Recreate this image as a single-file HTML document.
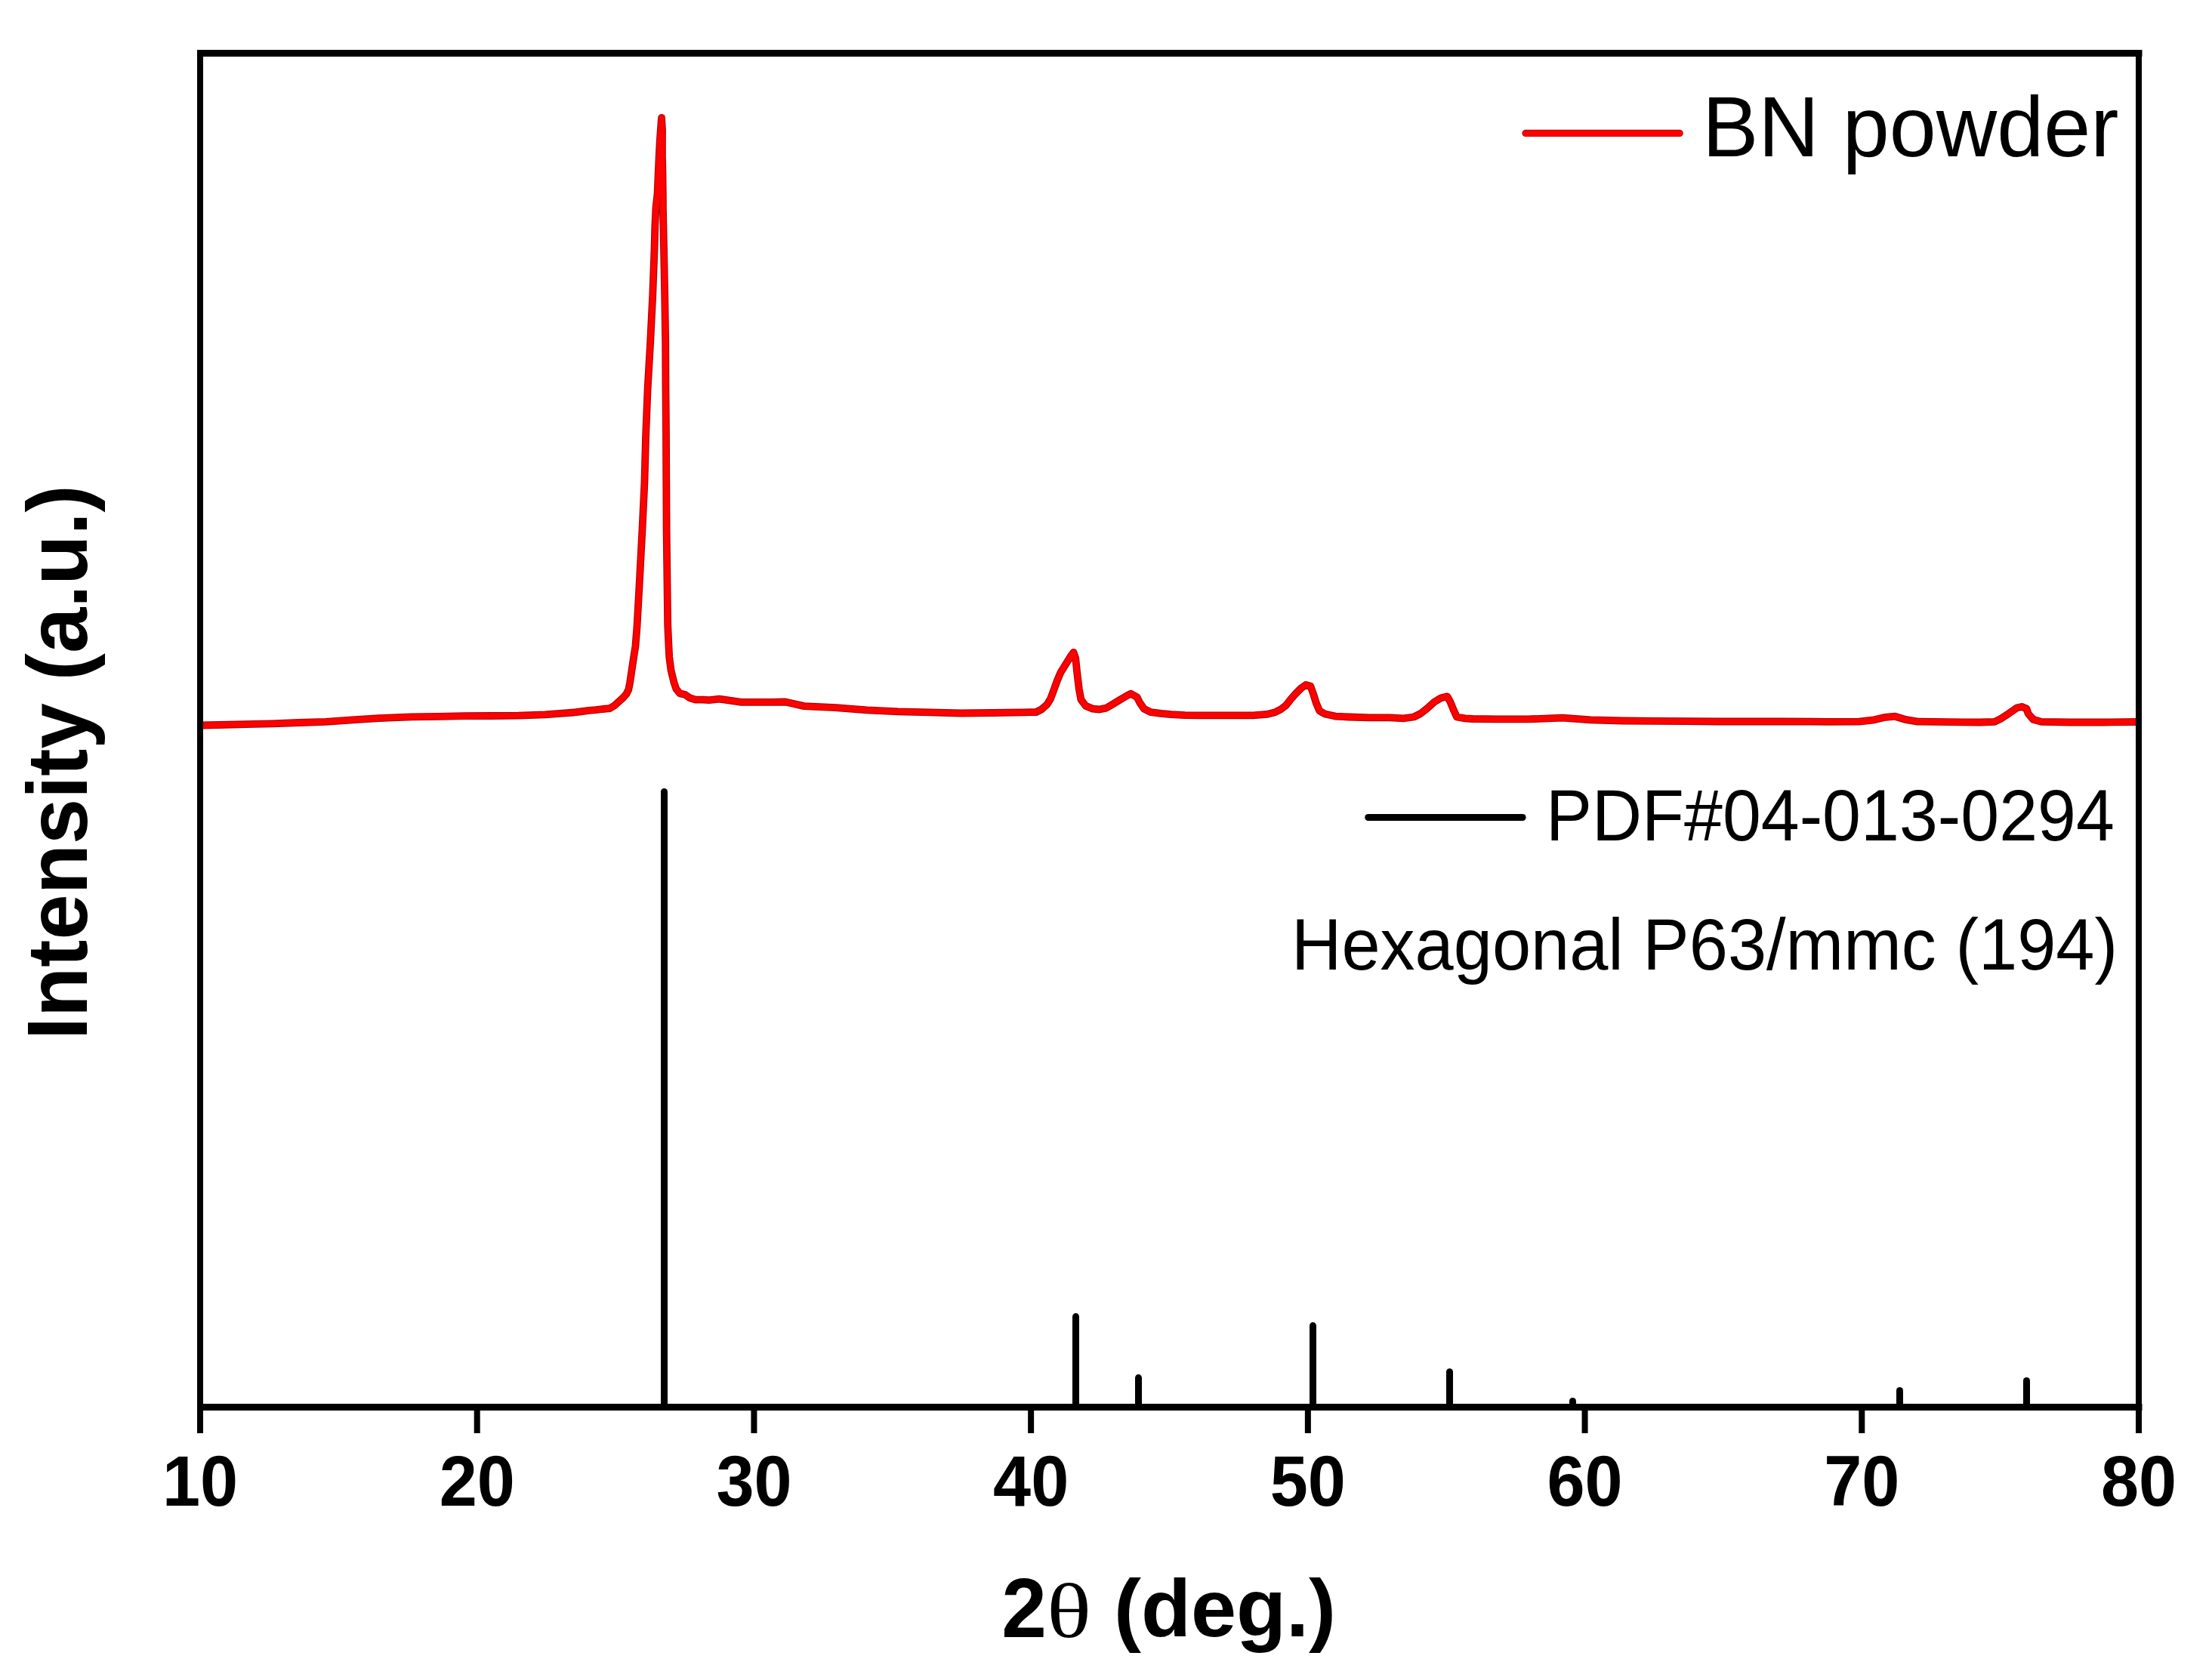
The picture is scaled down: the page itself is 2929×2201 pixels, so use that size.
<!DOCTYPE html><html><head><meta charset="utf-8"><style>html,body{margin:0;padding:0;background:#fff;overflow:hidden}svg{display:block}</style></head><body>
<svg width="2929" height="2201" viewBox="0 0 2929 2201">
<rect x="0" y="0" width="2929" height="2201" fill="#fff"/>
<path id="c" d="M265 960.5 L290.3 960 L325.5 959.1 L360.8 958.4 L396 957 L431.3 955.8 L466.6 953.3 L501.8 951.1 L545.3 949.4 L580.5 948.8 L615.8 948.2 L651 948 L686.3 947.6 L721.6 946.4 L745.1 944.6 L760 943.5 L780 940.8 L789 940.2 L798 939 L807.1 938.2 L813.1 934.8 L819.1 929.4 L825.1 924 L829.3 919.2 L832.3 913.2 L834.1 904.1 L835.9 892.1 L837.7 880.1 L839.5 868 L841.4 856 L843.5 830 L847.1 765.2 L850.4 702.6 L853.4 640 L855.1 577.7 L857.6 515 L861.2 452.6 L864.3 390 L866.6 328 L867.3 300 L868.5 275 L870.6 256 L871.8 227 L872.7 207 L873.7 188 L874.8 172 L876 156 L877 172 L876.9 188 L876.9 207 L877.4 227 L877.8 256 L877.9 275 L878.4 300 L879 328 L880.2 390 L881.2 452.6 L881.5 515 L882 577.7 L882.3 640 L882.6 702.6 L883.4 765.2 L884.2 827.7 L885.3 852 L886.2 870.1 L888.6 888.1 L892.3 903.2 L895.3 912.2 L900.1 918.2 L907.3 920 L913.3 924.2 L921.1 926.6 L930.2 926.6 L939.2 927.2 L952.5 925.7 L981.6 929.9 L1023.2 929.9 L1039.8 929.5 L1064.8 935.1 L1106.3 937.2 L1148 940.3 L1189.5 942.4 L1231.1 943.4 L1272.7 944.5 L1314.3 944 L1355.9 943.4 L1372 943 L1379 939.5 L1386.3 933.1 L1390.8 925.9 L1395.3 914.1 L1399.8 901.5 L1404.4 890.6 L1408.9 883.4 L1413.4 876.2 L1417.9 868.9 L1421.5 863.8 L1424.2 871.6 L1426.1 889.7 L1428.8 912.3 L1431.5 926.8 L1437.8 934.9 L1446.9 938.6 L1455.9 939.5 L1464.9 937.6 L1474 932.2 L1483 926.8 L1492.1 921.4 L1497.5 918.7 L1505.6 923.2 L1509.2 930.4 L1514.7 938.6 L1523.7 943.1 L1537.3 944.9 L1550.8 946.2 L1568.9 947.1 L1587.1 947.3 L1614.2 947.3 L1641.4 947.3 L1659.5 947.3 L1677.5 945.9 L1688.4 943.2 L1695.6 939.6 L1702.9 934.1 L1709.2 926 L1715.5 918.8 L1722.7 911.5 L1729.1 907 L1735.4 908.8 L1739 918.8 L1742.6 930.5 L1747.2 941.4 L1754.4 945.5 L1759 946.5 L1768.1 948.6 L1786.2 949.5 L1813.3 950.4 L1840.4 950.4 L1858.5 951.3 L1872.1 949.5 L1881.1 945 L1890.1 937.8 L1899.2 929.6 L1908.2 924.2 L1916.4 922.4 L1920 928.7 L1924.5 939.6 L1929 949.5 L1939.9 951.3 L1950 952 L1981.6 952.4 L2023.2 952.4 L2068.9 950.7 L2106.4 953.4 L2148 954.5 L2189.5 954.9 L2231.1 955.1 L2272.7 955.5 L2314.3 955.5 L2355.9 955.5 L2400 955.6 L2419.8 955.9 L2461.6 955.7 L2479.5 953.7 L2494.4 950.2 L2509.3 948.7 L2524.2 953.2 L2539.1 955.7 L2600 956.3 L2621.7 956.5 L2641.2 955.9 L2648.8 952.1 L2659.7 945.1 L2670.5 937.5 L2677 935.9 L2683.5 938.6 L2685.7 945.1 L2692.2 952.7 L2703.1 955.9 L2741 956.5 L2784.4 956.5 L2832 956" fill="none" stroke="#b40000" stroke-width="9.8" stroke-linejoin="round" stroke-linecap="butt"/>
<path d="M265 960.5 L290.3 960 L325.5 959.1 L360.8 958.4 L396 957 L431.3 955.8 L466.6 953.3 L501.8 951.1 L545.3 949.4 L580.5 948.8 L615.8 948.2 L651 948 L686.3 947.6 L721.6 946.4 L745.1 944.6 L760 943.5 L780 940.8 L789 940.2 L798 939 L807.1 938.2 L813.1 934.8 L819.1 929.4 L825.1 924 L829.3 919.2 L832.3 913.2 L834.1 904.1 L835.9 892.1 L837.7 880.1 L839.5 868 L841.4 856 L843.5 830 L847.1 765.2 L850.4 702.6 L853.4 640 L855.1 577.7 L857.6 515 L861.2 452.6 L864.3 390 L866.6 328 L867.3 300 L868.5 275 L870.6 256 L871.8 227 L872.7 207 L873.7 188 L874.8 172 L876 156 L877 172 L876.9 188 L876.9 207 L877.4 227 L877.8 256 L877.9 275 L878.4 300 L879 328 L880.2 390 L881.2 452.6 L881.5 515 L882 577.7 L882.3 640 L882.6 702.6 L883.4 765.2 L884.2 827.7 L885.3 852 L886.2 870.1 L888.6 888.1 L892.3 903.2 L895.3 912.2 L900.1 918.2 L907.3 920 L913.3 924.2 L921.1 926.6 L930.2 926.6 L939.2 927.2 L952.5 925.7 L981.6 929.9 L1023.2 929.9 L1039.8 929.5 L1064.8 935.1 L1106.3 937.2 L1148 940.3 L1189.5 942.4 L1231.1 943.4 L1272.7 944.5 L1314.3 944 L1355.9 943.4 L1372 943 L1379 939.5 L1386.3 933.1 L1390.8 925.9 L1395.3 914.1 L1399.8 901.5 L1404.4 890.6 L1408.9 883.4 L1413.4 876.2 L1417.9 868.9 L1421.5 863.8 L1424.2 871.6 L1426.1 889.7 L1428.8 912.3 L1431.5 926.8 L1437.8 934.9 L1446.9 938.6 L1455.9 939.5 L1464.9 937.6 L1474 932.2 L1483 926.8 L1492.1 921.4 L1497.5 918.7 L1505.6 923.2 L1509.2 930.4 L1514.7 938.6 L1523.7 943.1 L1537.3 944.9 L1550.8 946.2 L1568.9 947.1 L1587.1 947.3 L1614.2 947.3 L1641.4 947.3 L1659.5 947.3 L1677.5 945.9 L1688.4 943.2 L1695.6 939.6 L1702.9 934.1 L1709.2 926 L1715.5 918.8 L1722.7 911.5 L1729.1 907 L1735.4 908.8 L1739 918.8 L1742.6 930.5 L1747.2 941.4 L1754.4 945.5 L1759 946.5 L1768.1 948.6 L1786.2 949.5 L1813.3 950.4 L1840.4 950.4 L1858.5 951.3 L1872.1 949.5 L1881.1 945 L1890.1 937.8 L1899.2 929.6 L1908.2 924.2 L1916.4 922.4 L1920 928.7 L1924.5 939.6 L1929 949.5 L1939.9 951.3 L1950 952 L1981.6 952.4 L2023.2 952.4 L2068.9 950.7 L2106.4 953.4 L2148 954.5 L2189.5 954.9 L2231.1 955.1 L2272.7 955.5 L2314.3 955.5 L2355.9 955.5 L2400 955.6 L2419.8 955.9 L2461.6 955.7 L2479.5 953.7 L2494.4 950.2 L2509.3 948.7 L2524.2 953.2 L2539.1 955.7 L2600 956.3 L2621.7 956.5 L2641.2 955.9 L2648.8 952.1 L2659.7 945.1 L2670.5 937.5 L2677 935.9 L2683.5 938.6 L2685.7 945.1 L2692.2 952.7 L2703.1 955.9 L2741 956.5 L2784.4 956.5 L2832 956" fill="none" stroke="#ff0000" stroke-width="7.4" stroke-linejoin="round" stroke-linecap="butt"/>
<line x1="879.5" y1="1048.5" x2="879.5" y2="1862" stroke="#000" stroke-width="9" stroke-linecap="round"/>
<line x1="1424.5" y1="1743.6" x2="1424.5" y2="1862" stroke="#000" stroke-width="9" stroke-linecap="round"/>
<line x1="1507.5" y1="1824.6" x2="1507.5" y2="1862" stroke="#000" stroke-width="9" stroke-linecap="round"/>
<line x1="1738.5" y1="1755.6" x2="1738.5" y2="1862" stroke="#000" stroke-width="9" stroke-linecap="round"/>
<line x1="1919.5" y1="1816.8" x2="1919.5" y2="1862" stroke="#000" stroke-width="9" stroke-linecap="round"/>
<line x1="2082.5" y1="1855.5" x2="2082.5" y2="1862" stroke="#000" stroke-width="9" stroke-linecap="round"/>
<line x1="2515.5" y1="1841.5" x2="2515.5" y2="1862" stroke="#000" stroke-width="9" stroke-linecap="round"/>
<line x1="2683.5" y1="1828.4" x2="2683.5" y2="1862" stroke="#000" stroke-width="9" stroke-linecap="round"/>
<path d="M265.0 66.0 V1868.0 M2832.0 66.0 V1868.0" stroke="#000" stroke-width="8"/>
<path d="M261.0 70.5 H2836.5 M261.0 1863.5 H2836.5" stroke="#000" stroke-width="9"/>
<rect x="261" y="1866" width="8" height="32" fill="#000"/>
<rect x="627.71" y="1866" width="8" height="32" fill="#000"/>
<rect x="994.43" y="1866" width="8" height="32" fill="#000"/>
<rect x="1361.14" y="1866" width="8" height="32" fill="#000"/>
<rect x="1727.86" y="1866" width="8" height="32" fill="#000"/>
<rect x="2094.57" y="1866" width="8" height="32" fill="#000"/>
<rect x="2461.29" y="1866" width="8" height="32" fill="#000"/>
<rect x="2828" y="1866" width="8" height="32" fill="#000"/>
<text transform="translate(265 1994) scale(1.0 1.052)" text-anchor="middle" font-family="Liberation Sans" font-weight="bold" font-size="90">10</text>
<text transform="translate(631.71 1994) scale(1.0 1.052)" text-anchor="middle" font-family="Liberation Sans" font-weight="bold" font-size="90">20</text>
<text transform="translate(998.43 1994) scale(1.0 1.052)" text-anchor="middle" font-family="Liberation Sans" font-weight="bold" font-size="90">30</text>
<text transform="translate(1365.14 1994) scale(1.0 1.052)" text-anchor="middle" font-family="Liberation Sans" font-weight="bold" font-size="90">40</text>
<text transform="translate(1731.86 1994) scale(1.0 1.052)" text-anchor="middle" font-family="Liberation Sans" font-weight="bold" font-size="90">50</text>
<text transform="translate(2098.57 1994) scale(1.0 1.052)" text-anchor="middle" font-family="Liberation Sans" font-weight="bold" font-size="90">60</text>
<text transform="translate(2465.29 1994) scale(1.0 1.052)" text-anchor="middle" font-family="Liberation Sans" font-weight="bold" font-size="90">70</text>
<text transform="translate(2832 1994) scale(1.0 1.052)" text-anchor="middle" font-family="Liberation Sans" font-weight="bold" font-size="90">80</text>
<g transform="translate(2253.88 207) scale(1.0017 1.024)"><text x="0" y="0" font-family="Liberation Sans" font-size="111.3">BN powder</text></g>
<g transform="translate(2047 1113.2) scale(1.0 1.045)"><text x="0" y="0" font-family="Liberation Sans" font-size="91.5">PDF#04-013-0294</text></g>
<g transform="translate(1710 1284) scale(1.0 1.043)"><text x="0" y="0" font-family="Liberation Sans" font-size="92">Hexagonal P63/mmc (194)</text></g>
<g transform="translate(0 0) scale(1 1)"><g transform="translate(1326.2 2168) scale(0.9755 1.0039)"><text x="0" y="0" font-family="Liberation Sans" font-weight="bold" font-size="110">2</text></g><g transform="translate(1385.9 2167.77) scale(1.1209 0.9304)"><text x="0" y="0" font-family="Liberation Serif" font-size="110">θ</text></g><g transform="translate(1474.9 2167.26) scale(0.9826 0.9755)"><text x="0" y="0" font-family="Liberation Sans" font-weight="bold" font-size="110">(deg.)</text></g></g>
<g transform="translate(114.8 1377) rotate(-90) scale(1.0 1.04)"><text x="0" y="0" font-family="Liberation Sans" font-weight="bold" font-size="108.4">Intensity (a.u.)</text></g>
<line x1="2020" y1="176.4" x2="2224.2" y2="176.4" stroke="#c00000" stroke-width="9.2" stroke-linecap="round"/>
<line x1="2020" y1="176.4" x2="2224.2" y2="176.4" stroke="#ff0000" stroke-width="7" stroke-linecap="round"/>
<line x1="1811.7" y1="1082.5" x2="2016.1" y2="1082.5" stroke="#000" stroke-width="9" stroke-linecap="round"/>
</svg></body></html>
